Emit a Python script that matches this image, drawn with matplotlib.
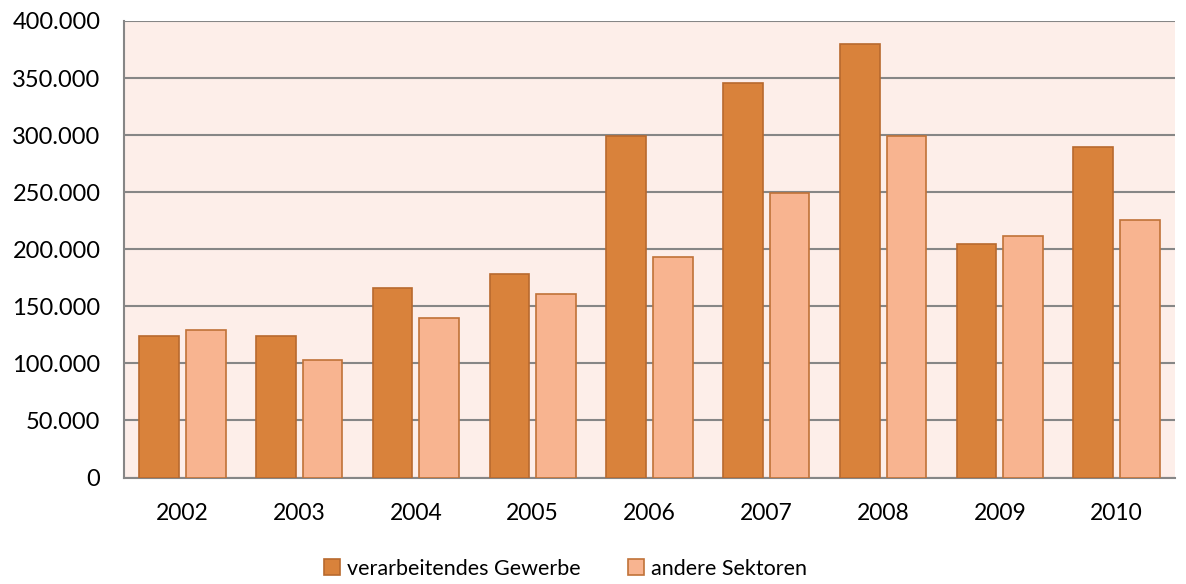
import numpy as np
import matplotlib.pyplot as plt
from matplotlib.ticker import FuncFormatter

plt.rcParams['font.family'] = ['Lato', 'DejaVu Sans']

jahre = ['2002', '2003', '2004', '2005', '2006', '2007', '2008', '2009', '2010']
verarbeitend = [124000, 124200, 166000, 178000, 299000, 345500, 379500, 205000, 290000]
andere = [129500, 103000, 139500, 160500, 193500, 249000, 299500, 211500, 226000]

x = np.arange(len(jahre))
w = 0.34

fig = plt.figure(figsize=(11.86, 5.84), dpi=100)
ax = fig.add_axes([124 / 1186, 1 - 477.5 / 584, (1175 - 124) / 1186, (477.5 - 21) / 584])
ax.set_facecolor('#FDEEE9')

ax.bar(x - 0.2, verarbeitend, w, color='#D9823B', edgecolor='#B8692E', linewidth=1.2,
       label='verarbeitendes Gewerbe', zorder=3)
ax.bar(x + 0.2, andere, w, color='#F8B490', edgecolor='#C07238', linewidth=1.2,
       label='andere Sektoren', zorder=3)

ax.set_xlim(-0.5, len(jahre) - 0.5)
ax.set_ylim(0, 400000)
ax.set_yticks(np.arange(0, 400001, 50000))
ax.yaxis.set_major_formatter(FuncFormatter(lambda v, p: f'{int(v):,}'.replace(',', '.')))
ax.set_xticks(x)
ax.set_xticklabels(jahre)
ax.grid(axis='y', color='#868686', linewidth=1.5, zorder=1)
ax.tick_params(axis='y', length=0, labelsize=17, pad=17)
ax.tick_params(axis='x', length=0, labelsize=16.5, pad=18)

for s in ['top', 'right']:
    ax.spines[s].set_visible(False)
for s in ['left', 'bottom']:
    ax.spines[s].set_color('#868686')
    ax.spines[s].set_linewidth(1.5)

ax.legend(loc='center', bbox_to_anchor=(0.42, -0.2), ncol=2, frameon=False,
          fontsize=15.5, handlelength=0.75, handleheight=0.75, handletextpad=0.3,
          columnspacing=2.2)

fig.savefig('out.png', dpi=100)
